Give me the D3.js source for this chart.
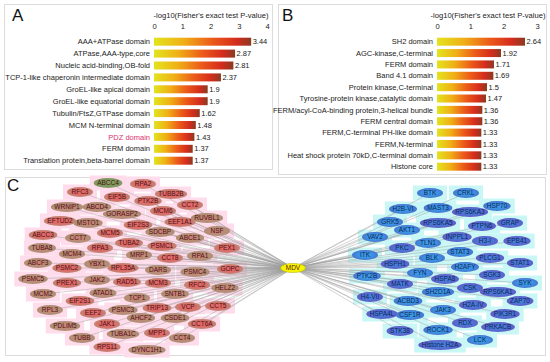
<!DOCTYPE html>
<html><head><meta charset="utf-8">
<script src="https://cdn.jsdelivr.net/npm/d3@7"></script>
<style>body{margin:0;background:#fff} svg text{font-family:"Liberation Sans",Arial,sans-serif}</style>
</head><body><svg id="chart" width="550" height="362"></svg>
<script>
// ---------- DATA ----------
const domainsA = ["AAA+ATPase domain","ATPase,AAA-type,core","Nucleic acid-binding,OB-fold","TCP-1-like chaperonin intermediate domain","GroEL-like apical domain","GroEL-like equatorial domain","Tubulin/FtsZ,GTPase domain","MCM N-terminal domain","PDZ domain","FERM domain","Translation protein,beta-barrel domain"];
const valuesA = [3.44,2.87,2.81,2.37,1.9,1.9,1.62,1.48,1.43,1.37,1.37];
const ticksA = [0,1,2,3,4];

const domainsB = ["SH2 domain","AGC-kinase,C-terminal","FERM domain","Band 4.1 domain","Protein kinase,C-terminal","Tyrosine-protein kinase,catalytic domain","FERM/acyl-CoA-binding protein,3-helical bundle","FERM central domain","FERM,C-terminal PH-like domain","FERM,N-terminal","Heat shock protein 70kD,C-terminal domain","Histone core"];
const valuesB = [2.64,1.92,1.71,1.69,1.5,1.47,1.36,1.36,1.33,1.33,1.33,1.33];
const ticksB = [0,1,2,3];

const axisTitle = "-log10(Fisher's exact test P-value)";
const hubName = "MDV";
const hubPos = [293,268];

const leftNames = ["ABCC4","RPA2","RFC3","EIF5B","TUBB2B","PTK2B","WRNIP1","ABCD4","CCT2","MCM6","GORASP2","RUVBL1","EFTUD2","MSTO1","EEF1A1","EIF2S3","NSF","SDCBP","MCM5","ABCC3","CCT7","ABCE1","TUBA2","PSMC1","PEX1","TUBA8","RPA3","MCM4","MRP1","CCT8","RPA1","ABCF3","YBX1","PSMC2","RPL35A","DARS","PSMC4","GOPC","PSMC5","JAK2","RAD51","PREX1","MCM3","RFC2","HELZ2","MCM2","ATAD1","SNTB1","TCP1","EIF2S1","RPL3","PSMC3","EEF2","CCT5","VCP","TRIP13","AHCF2","CSDE1","JAK1","CCT6A","PDLIM5","MPP1","TUBA1C","TUBB","CCT4","RPS11","DYNC1H1"];
const leftX = [108,143,80,117,171,148,67,97,190,163,122,207,60,88,180,138,217,160,110,43,78,190,129,162,227,42,100,72,139,170,200,38,97,67,123,158,195,230,33,97,127,67,158,197,225,43,103,175,137,80,50,123,93,218,188,157,141,175,107,202,65,157,123,82,182,107,147];
const leftY = [183,184,192,197,194,201,207,207,205,211,214,218,221,223,222,225,231,232,233,235,238,238,243,246,248,248,248,254,255,258,256,263,264,268,268,270,272,269,279,280,282,283,283,285,288,294,293,294,298,301,310,310,313,306,307,308,318,318,324,324,326,333,334,338,338,347,350];
const leftClass = ("grrrrr"+"bbrrbb"+"rbrrbb"+"rrbbrr"+"rbrbbr"+"bbbrrb"+"brbbrr"+"rrbbbb"+"brbbrr"+"rrbbrr"+"brbbbr"+"b").split("");

const rightNames = ["BTK","CRKL","HSP70","H2B-VI","MAST3","RPS6KA3","GRK5","RPS6KA5","PTPN6","GRAP","AKT1","VAV2","INPPL1","H3-I","EPB41","TLN1","PKC","STAT3","ITK","BLK","PLCG1","STAT1","HSPH1","H2AFY","FYN","SGK3","PTK2B","HSPA8","SYK","MATK","CSK","SH2D1A","RPS6KA1","H4-VII","ACBD3","ZAP70","H2A-IV","JAK3","PIK3R1","HSPA4L","CSF1R","RDX","PRKACB","ROCK1","STK38","LCK","Histone H2A"];
const rightX = [430,466,497,403,438,470,390,438,482,510,407,375,457,485,517,428,402,460,365,432,490,520,395,465,420,492,367,445,525,400,470,438,498,370,408,520,473,443,505,382,410,465,498,438,400,480,440];
const rightY = [193,193,206,209,208,212,222,223,226,223,230,237,237,241,241,243,248,252,255,258,258,263,264,267,273,275,276,279,283,284,288,292,292,297,301,301,305,310,314,314,315,323,327,330,331,340,345];
const rightClass = ("bbbbbp"+"bpppbb"+"pppbpb"+"bbpppb"+"bpbpbp"+"pbppbp"+"pbppbp"+"pbpbp").split("");

// ---------- DRAW ----------
const svg = d3.select("#chart");
const defs = svg.append("defs");
const FONT = "Liberation Sans, Arial, sans-serif";

const bg = defs.append("linearGradient").attr("id","barGrad").attr("x1","0").attr("x2","1").attr("y1","0").attr("y2","0");
[[0,"#e2e41e"],[0.3,"#f0b016"],[0.6,"#ec5a1a"],[0.85,"#d42c1c"],[1,"#8a3a22"]].forEach(s=>bg.append("stop").attr("offset",s[0]).attr("stop-color",s[1]));

function radial(id, c0, c1, c2){
  const g = defs.append("radialGradient").attr("id",id).attr("cx","50%").attr("cy","50%").attr("r","55%");
  g.append("stop").attr("offset",0).attr("stop-color",c0);
  g.append("stop").attr("offset",0.55).attr("stop-color",c1);
  g.append("stop").attr("offset",1).attr("stop-color",c2);
}
radial("nr","#ea6868","#dc6a68","#b8907a");
radial("nb","#cf7e74","#bb8c78","#aa9074");
radial("ng","#86a060","#7a9a5c","#8a9868");
radial("bb","#3aa2ea","#3a92e0","#4c6ccc");
radial("bp","#4a86de","#4a74d4","#6a56c4");

const frame = (x,y,w,h)=>svg.append("rect").attr("x",x).attr("y",y).attr("width",w).attr("height",h).attr("fill","none").attr("stroke","#dcdcdc").attr("stroke-width",1);
frame(4.5,4.5,268,165);
frame(278.5,4.5,268,170);
frame(5.5,177.5,540,178);

function letter(t,x,y){ svg.append("text").attr("x",x).attr("y",y).attr("font-size",17).attr("font-family",FONT).attr("fill","#111").text(t); }
letter("A",12,21); letter("B",282,21); letter("C",7,191);

function barPanel(names, values, ticks, xr, yr, titleX){
  const g = svg.append("g");
  const x = d3.scaleLinear().domain([0, ticks[ticks.length-1]]).range(xr);
  const y = d3.scalePoint().domain(names).range(yr);
  g.append("text").attr("x",titleX).attr("y",17.5).attr("text-anchor","middle").attr("font-size",7.6).attr("fill","#222").text(axisTitle);
  const ax = g.append("g").attr("transform","translate(0,29)").call(d3.axisTop(x).tickValues(ticks).tickSize(0).tickPadding(0).tickFormat(d3.format("d")));
  ax.select(".domain").remove();
  ax.selectAll("text").attr("font-size",7.6).attr("fill","#222").attr("font-family",FONT);
  const bh = 8;
  g.selectAll("rect.bar").data(names).join("rect").attr("class","bar")
    .attr("x",x(0)).attr("y",d=>y(d)-bh/2).attr("width",(d,i)=>x(values[i])-x(0)).attr("height",bh).attr("fill","url(#barGrad)");
  g.selectAll("text.lab").data(names).join("text").attr("class","lab")
    .attr("x",x(0)-4).attr("y",d=>y(d)).attr("dy","0.35em").attr("text-anchor","end").attr("font-size",7.5)
    .attr("fill",d=>d==="PDZ domain"?"#e0306e":"#222").text(d=>d);
  g.selectAll("text.val").data(names).join("text").attr("class","val")
    .attr("x",(d,i)=>x(values[i])+1.5).attr("y",d=>y(d)).attr("dy","0.35em").attr("font-size",7.5).attr("fill","#222").text((d,i)=>values[i]);
}
barPanel(domainsA, valuesA, ticksA, [154,267], [41.7,160.7], 211);
barPanel(domainsB, valuesB, ticksB, [437,537], [41.7,166.7], 488);

const nx = d3.scaleLinear().domain([5,545]).range([5,545]);
const ny = d3.scaleLinear().domain([177,355]).range([177,355]);
const nodes = [];
leftNames.forEach((n,i)=>nodes.push({name:n,x:nx(leftX[i]),y:ny(leftY[i]),side:"L",cls:leftClass[i]}));
rightNames.forEach((n,i)=>nodes.push({name:n,x:nx(rightX[i]),y:ny(rightY[i]),side:"R",cls:rightClass[i]}));
const hub = {x:nx(hubPos[0]), y:ny(hubPos[1])};

const gGlow = svg.append("g"), gEdge = svg.append("g"), gNode = svg.append("g");
const meas = svg.append("text").attr("font-size",6.5).attr("font-family",FONT);
nodes.forEach(d=>{ meas.text(d.name); d.tw = meas.node().getComputedTextLength(); d.w = Math.max(26, d.tw+7); });
meas.remove();

gGlow.selectAll("rect").data(nodes).join("rect")
  .attr("x",d=>d.x-d.w/2-4).attr("y",d=>d.y-7.5).attr("width",d=>d.w+8).attr("height",15)
  .attr("fill",d=>d.side==="L"?"#ffdcec":"#c8f7f6");

gEdge.selectAll("line").data(nodes).join("line")
  .attr("x1",hub.x).attr("y1",hub.y).attr("x2",d=>d.x).attr("y2",d=>d.y)
  .attr("stroke","#9a9a9a").attr("stroke-width",0.5).attr("stroke-opacity",0.85);

const fillOf = d=> d.side==="L" ? (d.cls==="r"?"url(#nr)":d.cls==="g"?"url(#ng)":"url(#nb)") : (d.cls==="p"?"url(#bp)":"url(#bb)");
gNode.selectAll("ellipse").data(nodes).join("ellipse")
  .attr("cx",d=>d.x).attr("cy",d=>d.y).attr("rx",d=>d.w/2).attr("ry",4.9).attr("fill",fillOf);
gNode.selectAll("text").data(nodes).join("text")
  .attr("x",d=>d.x).attr("y",d=>d.y).attr("dy","0.36em").attr("text-anchor","middle").attr("font-size",6.5)
  .attr("fill",d=>d.side==="L"?"#4a1414":"#161e5a").text(d=>d.name);

svg.append("ellipse").attr("cx",hub.x).attr("cy",hub.y).attr("rx",12.5).attr("ry",4.6).attr("fill","#f6f400").attr("stroke","#b0a800").attr("stroke-width",0.5);
svg.append("text").attr("x",hub.x).attr("y",hub.y).attr("dy","0.36em").attr("text-anchor","middle").attr("font-size",6.5).attr("fill","#602000").text(hubName);
</script></body></html>
